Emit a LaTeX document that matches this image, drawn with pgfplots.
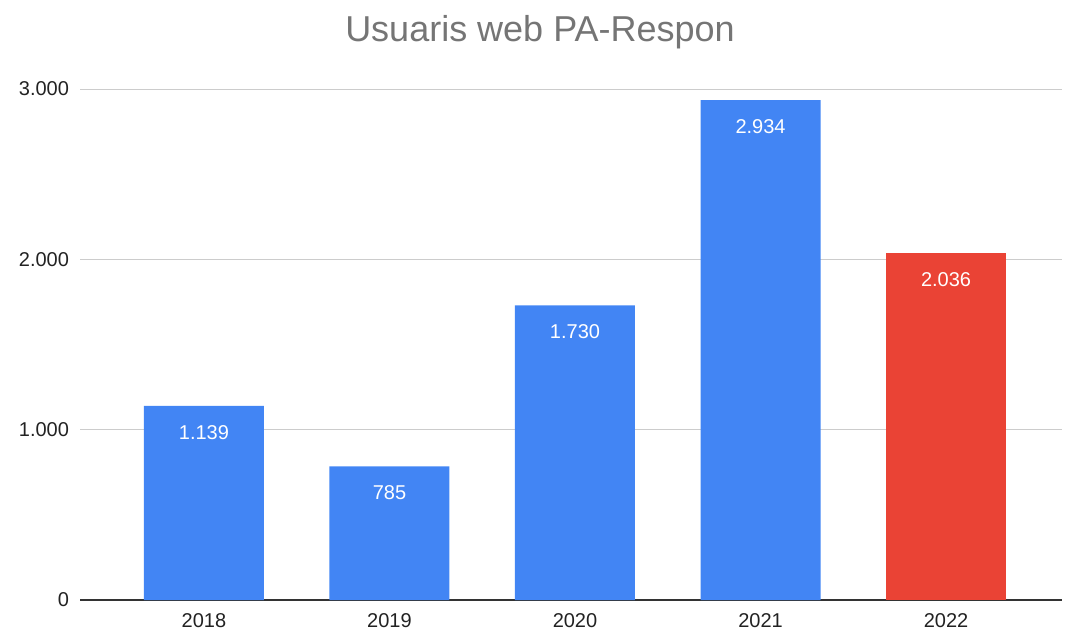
\documentclass[border=0pt]{standalone}
\usepackage{pgfplots}
\pgfplotsset{compat=1.18}
\usepackage{fontspec}
\setmainfont{Liberation Sans}
\definecolor{barblue}{HTML}{4285F4}
\definecolor{barred}{HTML}{EA4335}
\definecolor{gridgray}{HTML}{CCCCCC}
\definecolor{titlegray}{HTML}{757575}
\definecolor{ticktext}{HTML}{222222}
\begin{document}
\begin{tikzpicture}[x=1pt,y=1pt]
\path[use as bounding box] (0,0) rectangle (532.5,318.5);
\node[text=titlegray,font=\fontsize{18}{20}\selectfont] at (270,302.5) {Usuaris web PA-Respon};
\begin{axis}[
  at={(40pt,18.5pt)}, anchor=south west,
  scale only axis, width=491pt, height=255.5pt,
  ybar, bar width=60pt,
  xmin=-0.668, xmax=4.625,
  ymin=0, ymax=3000,
  xtick={0,1,2,3,4},
  xticklabels={2018,2019,2020,2021,2022},
  ytick={0,1000,2000,3000},
  /pgf/number format/assume math mode=true,
  /pgf/number format/1000 sep={.},
  ymajorgrids, grid style={gridgray, line width=0.5pt},
  major tick length=0pt,
  axis lines*=left,
  y axis line style={draw=none},
  x axis line style={draw=black!80, line width=0.6pt, -},
  tick label style={font=\fontsize{10}{11}\selectfont, text=ticktext},
  yticklabel style={xshift=-2pt},
  xticklabel style={yshift=-3pt},
  nodes near coords,
  nodes near coords style={font=\fontsize{10}{11}\selectfont, text=white, anchor=north, yshift=-6pt,
    /pgf/number format/assume math mode=true, /pgf/number format/1000 sep={.}},
]
\addplot[fill=barblue, draw=none, bar shift=0pt] coordinates {(0,1139) (1,785) (2,1730) (3,2934)};
\addplot[fill=barred, draw=none, bar shift=0pt] coordinates {(4,2036)};
\end{axis}
\end{tikzpicture}
\end{document}
